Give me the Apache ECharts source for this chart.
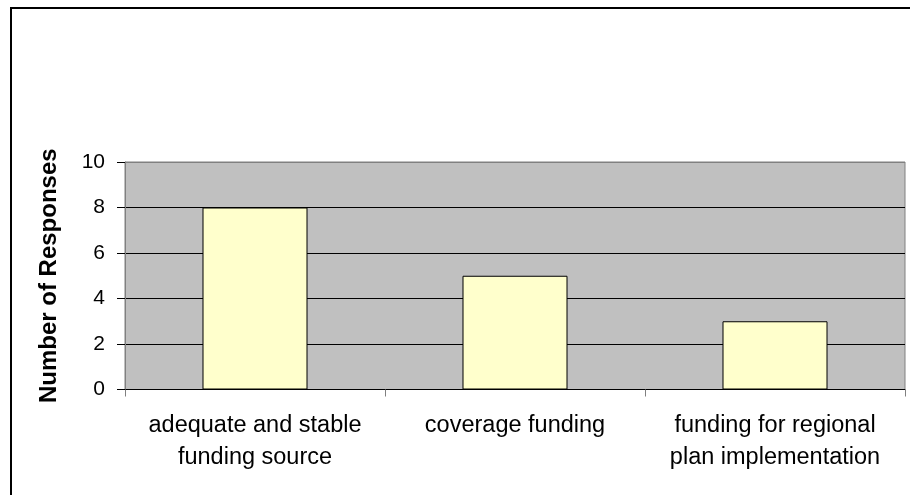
<!DOCTYPE html>
<html>
<head>
<meta charset="utf-8">
<style>
  html, body { margin: 0; padding: 0; background: #ffffff; }
  #chart { width: 910px; height: 495px; }
</style>
<script src="https://cdn.jsdelivr.net/npm/echarts@6/dist/echarts.min.js"></script>
</head>
<body>
<div id="chart"></div>
<script>
// Survey responses per funding need
const categories = [
  'adequate and stable\nfunding source',
  'coverage funding',
  'funding for regional\nplan implementation'
];
const responses = [8, 5, 3];
const yTicks = { min: 0, max: 10, interval: 2 };
const yTitle = 'Number of Responses';

const chart = echarts.init(document.getElementById('chart'), null, { renderer: 'canvas' });

chart.setOption({
  animation: false,
  backgroundColor: '#ffffff',
  textStyle: { fontFamily: 'Arial, "Liberation Sans", sans-serif' },
  grid: {
    left: 125,
    right: 5,
    top: 162,
    bottom: 105.5,
    show: true,
    backgroundColor: '#C0C0C0',
    borderColor: '#808080',
    borderWidth: 1
  },
  xAxis: {
    type: 'category',
    data: categories,
    boundaryGap: true,
    axisLine: { show: true, lineStyle: { color: '#000000', width: 1 } },
    axisTick: { show: true, length: 7, lineStyle: { color: '#808080' } },
    axisLabel: {
      color: '#000000',
      fontSize: 23.5,
      lineHeight: 32,
      margin: 20,
      interval: 0,
      align: 'center'
    },
    splitLine: { show: false }
  },
  yAxis: {
    type: 'value',
    min: yTicks.min,
    max: yTicks.max,
    interval: yTicks.interval,
    name: yTitle,
    nameLocation: 'middle',
    nameGap: 64,
    nameRotate: 90,
    nameTextStyle: {
      color: '#000000',
      fontSize: 24,
      fontWeight: 'bold'
    },
    axisLine: { show: true, lineStyle: { color: '#808080', width: 1 } },
    axisTick: { show: true, length: 8, inside: false, lineStyle: { color: '#000000' } },
    axisLabel: { color: '#000000', fontSize: 21, margin: 20 },
    splitLine: {
      show: true,
      lineStyle: {
        color: ['#000000', '#000000', '#000000', '#000000', '#000000', '#808080'],
        width: 1
      }
    }
  },
  series: [{
    type: 'bar',
    data: responses,
    barWidth: 105,
    itemStyle: {
      color: '#FFFFCC',
      borderColor: '#000000',
      borderWidth: 1
    }
  }],
  graphic: [{
    type: 'polyline',
    shape: { points: [[11, 495], [11, 8], [910, 8]] },
    style: { stroke: '#000000', lineWidth: 2, fill: null },
    silent: true,
    z: 100
  }]
});
</script>
</body>
</html>
